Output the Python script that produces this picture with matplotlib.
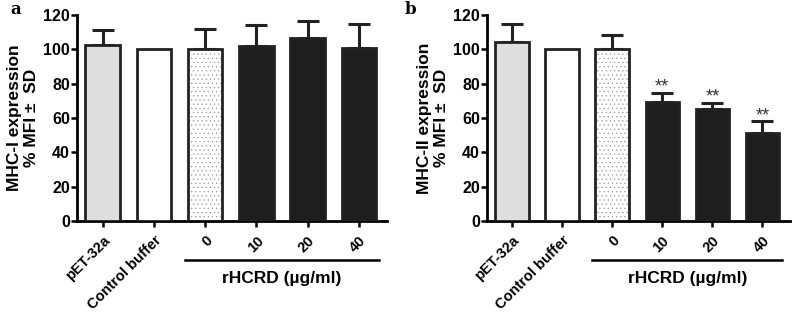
import matplotlib.pyplot as plt

plt.rcParams['font.family'] = ['Liberation Sans', 'DejaVu Sans']
plt.rcParams['font.weight'] = 'bold'
plt.rcParams['axes.labelweight'] = 'bold'
plt.rcParams['hatch.linewidth'] = 0.4

groups = ['pET-32a', 'Control buffer', '0', '10', '20', '40']
mhc1 = [102.5, 100, 100, 102, 106.5, 101]
mhc1_sd = [9, 0, 12, 12, 10, 13.5]
mhc2 = [104.5, 100, 100, 69.5, 65, 51]
mhc2_sd = [10.5, 0, 8.5, 5, 4, 7]
stars2 = ['', '', '', '**', '**', '**']

fills = ['#dedede', 'white', 'white', '#1e1e1e', '#1e1e1e', '#1e1e1e']
hatches = [None, None, '....', None, None, None]

fig = plt.figure(figsize=(7.96, 3.14), dpi=100)
ax1 = fig.add_axes([77/796, 1-221/314, 310/796, 206/314])
ax2 = fig.add_axes([487/796, 1-221/314, 303/796, 206/314])


def panel(ax, vals, sds, ylab, stars=None):
    x = range(len(vals))
    for i in x:
        if hatches[i]:
            ax.bar(i, vals[i], 0.67, color='white', edgecolor='#999999',
                   hatch=hatches[i], linewidth=0, zorder=2)
            ax.bar(i, vals[i], 0.67, color='none', edgecolor='#222222',
                   linewidth=2, zorder=3)
        else:
            ax.bar(i, vals[i], 0.67, color=fills[i], edgecolor='#222222',
                   linewidth=2, zorder=3)
        if sds[i] > 0:
            ax.errorbar(i, vals[i], yerr=[[0], [sds[i]]], fmt='none',
                        ecolor='#222222', elinewidth=2.2, capsize=8,
                        capthick=2.2, zorder=1)
        if stars and stars[i]:
            ax.text(i, vals[i] + sds[i] - 1.5, stars[i], ha='center',
                    va='bottom', fontsize=13, fontweight='normal',
                    color='#333333')
    ax.set_ylim(0, 120)
    ax.set_xlim(-0.5, 5.55)
    ax.set_yticks(range(0, 121, 20))
    ax.set_xticks(list(x))
    ax.set_xticklabels(groups, rotation=45, ha='right',
                       rotation_mode='anchor', fontsize=10.5,
                       fontweight='bold')
    ax.tick_params(axis='y', labelsize=11.5, width=1.8, length=4, pad=1)
    ax.tick_params(axis='x', width=1.8, length=4, pad=5)
    for s in ['top', 'right']:
        ax.spines[s].set_visible(False)
    for s in ['left', 'bottom']:
        ax.spines[s].set_linewidth(2)
    ax.set_ylabel(ylab, fontsize=12.5, fontweight='bold', labelpad=3,
                  linespacing=1.15)
    ax.plot([1.6, 5.4], [-0.19, -0.19], color='black', lw=1.8,
            transform=ax.get_xaxis_transform(), clip_on=False)
    ax.text(3.5, -0.245, 'rHCRD (µg/ml)', ha='center', va='top',
            fontsize=12.5, fontweight='bold',
            transform=ax.get_xaxis_transform())


panel(ax1, mhc1, mhc1_sd, 'MHC-I expression\n% MFI ±  SD')
panel(ax2, mhc2, mhc2_sd, 'MHC-II expression\n% MFI ±  SD', stars2)

fig.text(10/796, 1-10/314, 'a', family='DejaVu Serif', fontsize=12,
         fontweight='bold', va='center')
fig.text(405/796, 1-10/314, 'b', family='DejaVu Serif', fontsize=12,
         fontweight='bold', va='center')

fig.savefig('out.png', dpi=100)
